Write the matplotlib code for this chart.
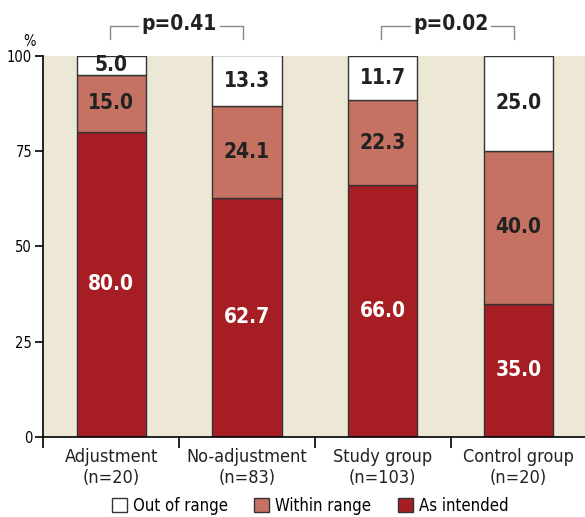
import matplotlib
matplotlib.use("Agg")
import matplotlib.pyplot as plt
from matplotlib.patches import Patch

plt.rcParams['font.family'] = ['DejaVu Sans']
plt.rcParams['font.stretch'] = 'condensed'

groups = ["Adjustment\n(n=20)", "No-adjustment\n(n=83)", "Study group\n(n=103)", "Control group\n(n=20)"]
as_intended = [80.0, 62.7, 66.0, 35.0]
within_range = [15.0, 24.1, 22.3, 40.0]
out_of_range = [5.0, 13.3, 11.7, 25.0]
pvalues = [(0, 1, "p=0.41"), (2, 3, "p=0.02")]

c_dark = "#a61e23"
c_mid = "#c57262"
c_out = "white"
bg = "#ece8d5"

fig = plt.figure(figsize=(5.85, 5.17), dpi=100)
ax = fig.add_axes([0.074, 0.155, 0.926, 0.737])
ax.set_facecolor(bg)

x = list(range(len(groups)))
w = 0.51
edge = dict(edgecolor="#333333", linewidth=1.0)
ax.bar(x, as_intended, w, color=c_dark, **edge)
b2 = [a for a in as_intended]
ax.bar(x, within_range, w, bottom=b2, color=c_mid, **edge)
b3 = [a + b for a, b in zip(as_intended, within_range)]
ax.bar(x, out_of_range, w, bottom=b3, color=c_out, **edge)

lab = dict(ha="center", va="center", fontsize=15, fontweight="bold")
for i in x:
    ax.text(i, as_intended[i] / 2, "%.1f" % as_intended[i], color="white", **lab)
    ax.text(i, b2[i] + within_range[i] / 2, "%.1f" % within_range[i], color="#222222", **lab)
    top = min(b3[i] + out_of_range[i], 100)
    ax.text(i, (b3[i] + top) / 2, "%.1f" % out_of_range[i], color="#222222", **lab)

# significance brackets above the bars
for a, b, txt in pvalues:
    y0, y1 = 104.5, 107.8
    mid = (a + b) / 2
    gap = 0.3
    kw = dict(color="#888888", linewidth=1.0, clip_on=False)
    ax.plot([a - 0.01, a - 0.01, mid - gap], [y0, y1, y1], **kw)
    ax.plot([mid + gap, b - 0.03, b - 0.03], [y1, y1, y0], **kw)
    ax.text(mid, 108.3, txt, ha="center", va="center", fontsize=15,
            fontweight="bold", color="#222222")

ax.set_xlim(-0.5, 3.49)
ax.set_ylim(0, 100)
ax.set_yticks([0, 25, 50, 75, 100])
ax.tick_params(axis="y", labelsize=10.5, length=6, width=1.2, direction="out", pad=2)
ax.set_xticks([-0.5, 0.5, 1.5, 2.5])
ax.set_xticklabels([])
ax.tick_params(axis="x", length=8, width=1.2, direction="out")
for i, g in enumerate(groups):
    ax.text(i, -3, g, ha="center", va="top", fontsize=13, color="#222222",
            transform=ax.transData, linespacing=1.2)
ax.text(-0.6, 103.8, "%", ha="center", va="center", fontsize=10.5)
ax.spines["top"].set_visible(False)
ax.spines["right"].set_visible(False)
ax.spines["left"].set_linewidth(1.2)
ax.spines["bottom"].set_linewidth(1.2)

handles = [Patch(facecolor=c_out, edgecolor="#333333", label="Out of range"),
           Patch(facecolor=c_mid, edgecolor="#333333", label="Within range"),
           Patch(facecolor=c_dark, edgecolor="#333333", label="As intended")]
fig.legend(handles=handles, loc="lower center", ncol=3, frameon=False,
           bbox_to_anchor=(0.53, -0.025), fontsize=12, handlelength=0.9,
           handleheight=0.9, handletextpad=0.35, columnspacing=1.6)

fig.savefig("out.png", dpi=100)
